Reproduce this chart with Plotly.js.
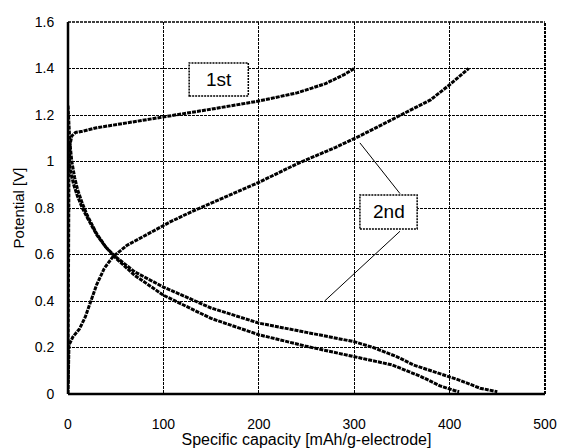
<!DOCTYPE html>
<html><head><meta charset="utf-8">
<script src="https://cdn.plot.ly/plotly-3.0.1.min.js"></script>
<style>html,body{margin:0;padding:0;background:#fff}#chart{width:561px;height:448px}</style>
</head><body><div id="chart"></div>
<script>
// 1st cycle
const dis1X = [0, 1, 2, 4, 7, 10, 15, 20, 30, 40, 50, 70, 100, 150, 200, 250, 300, 340, 370, 390, 405, 410];
const dis1Y = [1.24, 1.15, 1.08, 1.0, 0.93, 0.88, 0.82, 0.77, 0.69, 0.63, 0.585, 0.51, 0.425, 0.325, 0.255, 0.205, 0.16, 0.125, 0.075, 0.035, 0.015, 0.01];
const chg1X = [0, 0.5, 1, 2, 4, 8, 15, 30, 60, 100, 150, 200, 240, 270, 290, 300];
const chg1Y = [0.05, 0.6, 0.95, 1.07, 1.11, 1.125, 1.13, 1.145, 1.165, 1.19, 1.225, 1.26, 1.295, 1.335, 1.375, 1.40];
// 2nd cycle
const dis2X = [0, 1, 3, 6, 10, 15, 20, 30, 40, 50, 70, 100, 150, 200, 250, 300, 320, 345, 362, 390, 410, 432, 450];
const dis2Y = [1.05, 1.0, 0.95, 0.9, 0.85, 0.8, 0.76, 0.685, 0.63, 0.59, 0.525, 0.46, 0.37, 0.305, 0.265, 0.225, 0.2, 0.16, 0.125, 0.086, 0.06, 0.025, 0.01];
const chg2X = [0, 0.5, 1, 5, 12, 18, 24, 30, 38, 47, 62, 80, 107, 130, 160, 200, 240, 280, 306, 330, 360, 380, 400, 420];
const chg2Y = [0.0, 0.12, 0.21, 0.245, 0.28, 0.33, 0.40, 0.47, 0.54, 0.59, 0.64, 0.68, 0.74, 0.785, 0.84, 0.91, 0.99, 1.06, 1.11, 1.16, 1.22, 1.265, 1.33, 1.40];

const xTicks = [0, 100, 200, 300, 400, 500];
const yTicks = [0, 0.2, 0.4, 0.6, 0.8, 1, 1.2, 1.4, 1.6];

const lineStyle = {color: '#000', width: 3, dash: '4px,1px'};
const mk = (x, y) => ({x, y, type: 'scatter', mode: 'lines', line: lineStyle, hoverinfo: 'skip', showlegend: false});
const data = [mk(dis1X, dis1Y), mk(chg1X, chg1Y), mk(dis2X, dis2Y), mk(chg2X, chg2Y)];

const fam = 'Liberation Sans, Arial, sans-serif';
const layout = {
  width: 561, height: 448,
  margin: {l: 68, r: 16, t: 22, b: 54},
  paper_bgcolor: '#fff', plot_bgcolor: '#fff',
  font: {family: fam, color: '#000'},
  showlegend: false,
  xaxis: {
    range: [0, 500], tickvals: xTicks, ticktext: xTicks.map(String),
    showgrid: true, gridcolor: '#000', gridwidth: 1, griddash: '3px,1px',
    zeroline: false, showline: false,
    ticks: 'outside', ticklen: 17, tickcolor: 'rgba(0,0,0,0)',
    tickfont: {size: 14, family: fam, color: '#000'},
    title: {text: 'Specific capacity [mAh/g-electrode]', font: {size: 16, family: fam, color: '#000'}, standoff: 0}
  },
  yaxis: {
    range: [0, 1.6], tickvals: yTicks, ticktext: yTicks.map(String),
    showgrid: true, gridcolor: '#000', gridwidth: 1, griddash: '3px,1px',
    zeroline: false, showline: false,
    ticks: 'outside', ticklen: 10, tickcolor: 'rgba(0,0,0,0)',
    tickfont: {size: 14, family: fam, color: '#000'},
    title: {text: 'Potential [V]', font: {size: 15, family: fam, color: '#000'}, standoff: 6}
  },
  shapes: [
    {type: 'line', xref: 'paper', yref: 'paper', x0: 0, x1: 1, y0: 1, y1: 1, line: {color: '#000', width: 1.5, dash: '3px,1px'}},
    {type: 'line', xref: 'paper', yref: 'paper', x0: 1, x1: 1, y0: 0, y1: 1, line: {color: '#000', width: 2, dash: '3px,1px'}},
    {type: 'line', xref: 'paper', yref: 'paper', x0: 0, x1: 0, y0: 0, y1: 1, line: {color: '#000', width: 2.5}},
    {type: 'line', xref: 'paper', yref: 'paper', x0: 0, x1: 1, y0: 0, y1: 0, line: {color: '#000', width: 2.5}},
    {type: 'rect', xref: 'x', yref: 'y', x0: 127, x1: 189, y0: 1.282, y1: 1.424, line: {color: '#000', width: 1.5, dash: '2px,1px'}, fillcolor: '#fff'},
    {type: 'rect', xref: 'x', yref: 'y', x0: 306, x1: 366, y0: 0.71, y1: 0.856, line: {color: '#000', width: 1.5, dash: '2px,1px'}, fillcolor: '#fff'},
    {type: 'line', xref: 'x', yref: 'y', x0: 348, y0: 0.862, x1: 306, y1: 1.08, line: {color: '#000', width: 1}},
    {type: 'line', xref: 'x', yref: 'y', x0: 348, y0: 0.70, x1: 269, y1: 0.40, line: {color: '#000', width: 1}}
  ],
  annotations: [
    {xref: 'x', yref: 'y', x: 158, y: 1.353, text: '1st', showarrow: false, font: {size: 19, family: fam, color: '#000'}},
    {xref: 'x', yref: 'y', x: 336, y: 0.783, text: '2nd', showarrow: false, font: {size: 19, family: fam, color: '#000'}}
  ]
};
Plotly.newPlot('chart', data, layout, {displayModeBar: false, staticPlot: true});
</script></body></html>
